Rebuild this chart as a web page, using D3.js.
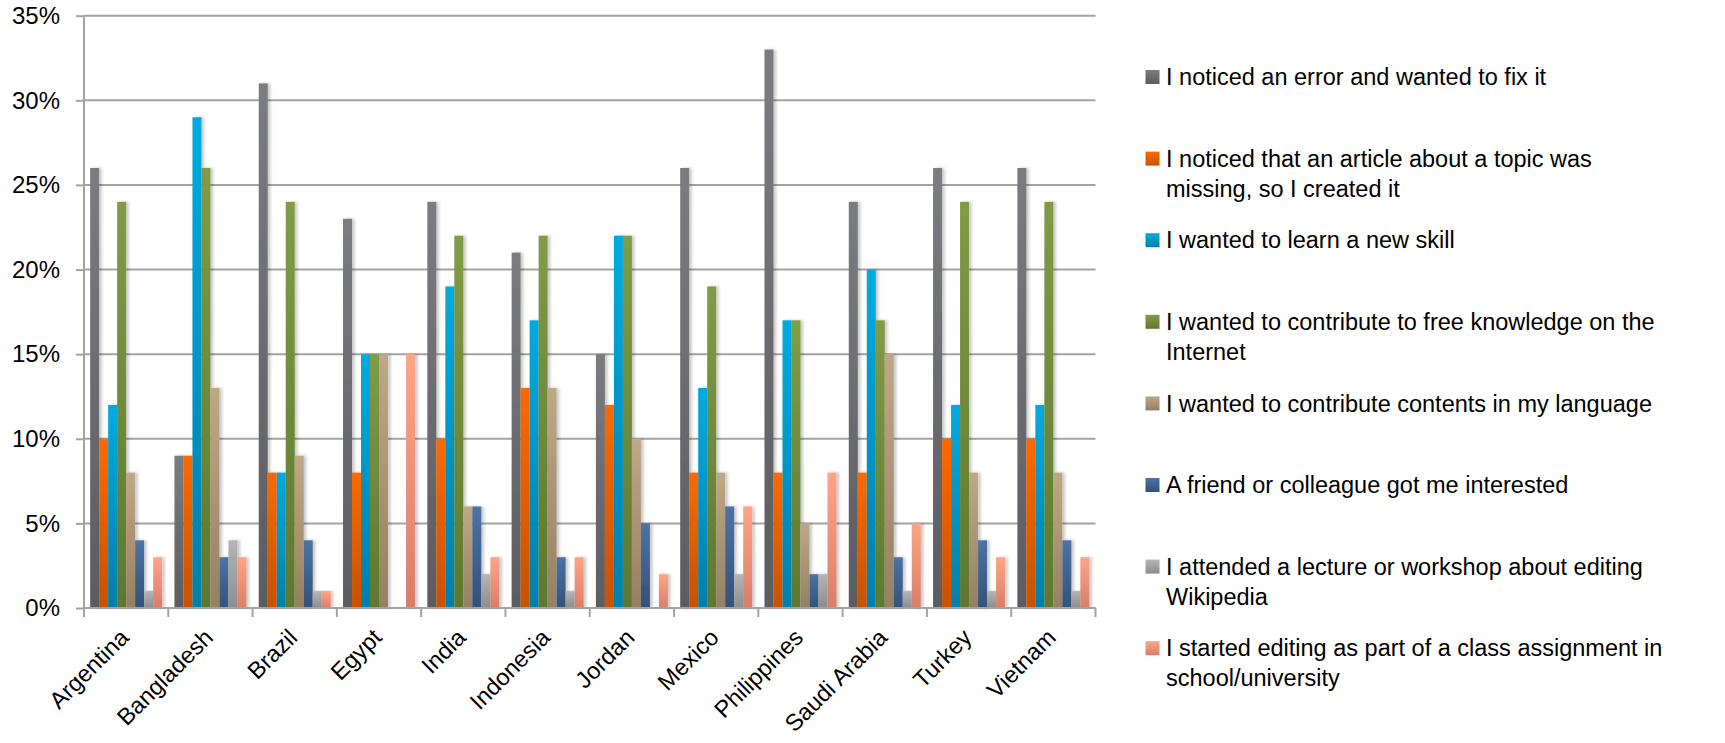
<!DOCTYPE html>
<html>
<head>
<meta charset="utf-8">
<script src="https://cdn.jsdelivr.net/npm/d3@7"></script>
<style>
  html, body { margin: 0; padding: 0; background: #fff; }
  svg { display: block; }
  text { font-family: "Liberation Sans", Arial, sans-serif; fill: #000; }
</style>
</head>
<body>
<svg id="chart" width="1725" height="743"></svg>
<script>
// ---------- data ----------
const categories = ["Argentina", "Bangladesh", "Brazil", "Egypt", "India", "Indonesia",
  "Jordan", "Mexico", "Philippines", "Saudi Arabia", "Turkey", "Vietnam"];

const seriesNames = [
  "I noticed an error and wanted to fix it",
  "I noticed that an article about a topic was\nmissing, so I created it",
  "I wanted to learn a new skill",
  "I wanted to contribute to free knowledge on the\nInternet",
  "I wanted to contribute contents in my language",
  "A friend or colleague got me interested",
  "I attended a lecture or workshop about editing\nWikipedia",
  "I started editing as part of a class assignment in\nschool/university"
];

// values in percent, one array per series, in category order
const errorFix       = [26,  9, 31, 23, 24, 21, 15, 26, 33, 24, 26, 26];
const missingArticle = [10,  9,  8,  8, 10, 13, 12,  8,  8,  8, 10, 10];
const learnSkill     = [12, 29,  8, 15, 19, 17, 22, 13, 17, 20, 12, 12];
const freeKnowledge  = [24, 26, 24, 15, 22, 22, 22, 19, 17, 17, 24, 24];
const myLanguage     = [ 8, 13,  9, 15,  6, 13, 10,  8,  5, 15,  8,  8];
const friend         = [ 4,  3,  4,  0,  6,  3,  5,  6,  2,  3,  4,  4];
const lecture        = [ 1,  4,  1,  0,  2,  1,  0,  2,  2,  1,  1,  1];
const classAssign    = [ 3,  3,  1, 15,  3,  3,  2,  6,  8,  5,  3,  3];

const seriesValues = [errorFix, missingArticle, learnSkill, freeKnowledge,
  myLanguage, friend, lecture, classAssign];

const yTicks = [0, 5, 10, 15, 20, 25, 30, 35];

// colours (top, bottom of each bar's gradient)
const colorTop    = ["#7b7c80", "#fb6a00", "#00abe1", "#809c45", "#bfa886", "#4c73a3", "#b4b5b7", "#ffa487"];
const colorBottom = ["#5b5c60", "#c95100", "#0080ab", "#5e782f", "#968063", "#33517a", "#8c8d8f", "#d77f69"];

// ---------- layout ----------
const svg = d3.select("#chart");
const plotLeft = 84, plotRight = 1095.5, plotTop = 15.7, plotBottom = 608;

const x0 = d3.scaleBand().domain(categories).range([plotLeft, plotRight])
  .paddingInner(0.146).paddingOuter(0.073);
const x1 = d3.scaleBand().domain(d3.range(seriesNames.length)).range([0, x0.bandwidth()]);
const y = d3.scaleLinear().domain([0, 35]).range([plotBottom, plotTop]);

const defs = svg.append("defs");
seriesNames.forEach((s, i) => {
  const g = defs.append("linearGradient").attr("id", "grad" + i)
    .attr("x1", 0).attr("y1", 0).attr("x2", 0).attr("y2", 1);
  g.append("stop").attr("offset", "0%").attr("stop-color", colorTop[i]);
  g.append("stop").attr("offset", "100%").attr("stop-color", colorBottom[i]);
});
const f = defs.append("filter").attr("id", "shadow")
  .attr("x", "-50%").attr("y", "-5%").attr("width", "200%").attr("height", "110%");
f.append("feDropShadow").attr("dx", 2.5).attr("dy", 0).attr("stdDeviation", 1.6)
  .attr("flood-color", "#000").attr("flood-opacity", 0.22);

// gridlines
const gridColor = "#a3a3a3";
svg.append("g").selectAll("line").data(yTicks).join("line")
  .attr("x1", plotLeft).attr("x2", plotRight)
  .attr("y1", d => y(d)).attr("y2", d => y(d))
  .attr("stroke", gridColor).attr("stroke-width", 2);

// y axis
const yAxis = svg.append("g").attr("transform", `translate(${plotLeft},0)`)
  .call(d3.axisLeft(y).tickValues(yTicks).tickFormat(d => d + "%")
    .tickSize(8).tickPadding(16));
yAxis.select(".domain").attr("stroke", gridColor).attr("stroke-width", 2)
  .attr("d", `M0,${plotBottom + 8}V${plotTop}`);
yAxis.selectAll(".tick line").attr("stroke", gridColor).attr("stroke-width", 2);
yAxis.selectAll(".tick text").attr("font-size", 24)
  .attr("font-family", "Liberation Sans, Arial, sans-serif").attr("fill", "#000");

// bars
const groups = svg.append("g").selectAll("g").data(categories).join("g")
  .attr("transform", d => `translate(${x0(d)},0)`);
groups.selectAll("rect")
  .data((c, ci) => seriesValues.map((vals, si) => ({ si, v: vals[ci] })))
  .join("rect")
  .filter(d => d.v > 0)
  .attr("x", d => x1(d.si))
  .attr("y", d => y(d.v))
  .attr("width", x1.bandwidth())
  .attr("height", d => y(0) - y(d.v))
  .attr("fill", d => `url(#grad${d.si})`)
  .attr("filter", "url(#shadow)");

// x axis
const xg = svg.append("g");
xg.append("line").attr("x1", plotLeft).attr("x2", plotRight)
  .attr("y1", plotBottom).attr("y2", plotBottom)
  .attr("stroke", gridColor).attr("stroke-width", 2);
const step = x0.step();
xg.selectAll("line.tk").data(d3.range(categories.length + 1)).join("line")
  .attr("class", "tk")
  .attr("x1", i => plotLeft + i * step).attr("x2", i => plotLeft + i * step)
  .attr("y1", plotBottom).attr("y2", plotBottom + 9)
  .attr("stroke", gridColor).attr("stroke-width", 2);
xg.selectAll("text").data(categories).join("text")
  .attr("transform", d => `translate(${x0(d) + x0.bandwidth() / 2 + 4},${plotBottom + 31}) rotate(-45)`)
  .attr("text-anchor", "end")
  .attr("font-size", 23.5)
  .text(d => d);

// legend
const legX = 1145.5, legTextX = 1166, legY0 = 77, legStep = 81.6, lineH = 30;
const leg = svg.append("g").selectAll("g").data(seriesNames).join("g")
  .attr("transform", (d, i) => `translate(0,${legY0 + i * legStep})`);
leg.append("rect").attr("x", legX).attr("y", -7).attr("width", 14).attr("height", 14)
  .attr("fill", (d, i) => `url(#grad${i})`);
leg.append("text").attr("x", legTextX).attr("y", 0)
  .attr("font-size", 23.5)
  .each(function(d) {
    const t = d3.select(this);
    d.split("\n").forEach((line, k) => {
      t.append("tspan").attr("x", legTextX).attr("y", k * lineH).attr("dy", "0.35em").text(line);
    });
  });
</script>
</body>
</html>
